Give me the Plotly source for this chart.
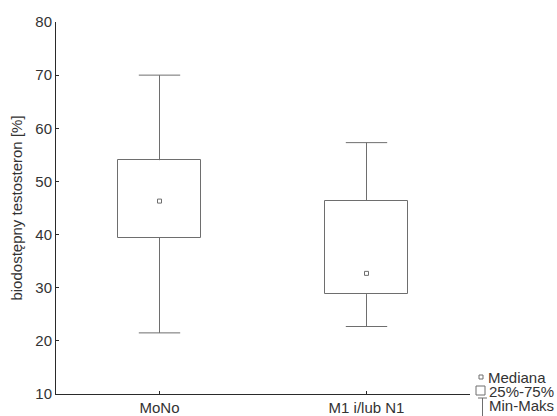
import plotly.graph_objects as go

categories = ["MoNo", "M1 i/lub N1"]
minimum = [21.5, 22.7]
q1 = [39.4, 28.8]
median = [46.3, 32.7]
q3 = [54.0, 46.4]
maximum = [70.0, 57.3]
y_ticks = [10, 20, 30, 40, 50, 60, 70, 80]

W, H = 557, 416
ML, MR, MT, MB = 56, 87, 22, 22
PW, PH = W - ML - MR, H - MT - MB
LINE = "#6e6e6e"
AXIS = "#2a2a2a"
TXT = "#333333"
FONT = "Liberation Sans, Arial, sans-serif"
FS = 15
LFS = 15

pos = list(range(len(categories)))
box_w = 0.4
cap_w = 0.2

fig = go.Figure()

# Boxes (25%-75%)
fig.add_trace(go.Bar(
    x=pos, y=[b - a for a, b in zip(q1, q3)], base=q1, width=box_w,
    marker=dict(color="white", line=dict(color=LINE, width=1)),
    hoverinfo="skip", showlegend=False))

# Whiskers and caps (Min-Maks)
wx, wy = [], []
for p, lo, a, b, hi in zip(pos, minimum, q1, q3, maximum):
    wx += [p, p, None, p, p, None,
           p - cap_w / 2, p + cap_w / 2, None, p - cap_w / 2, p + cap_w / 2, None]
    wy += [b, hi, None, a, lo, None, hi, hi, None, lo, lo, None]
fig.add_trace(go.Scatter(x=wx, y=wy, mode="lines",
                         line=dict(color=LINE, width=1),
                         hoverinfo="skip", showlegend=False))

# Medians
fig.add_trace(go.Scatter(x=pos, y=median, mode="markers",
                         marker=dict(symbol="square-open", size=4,
                                     color=LINE, line=dict(width=1, color=LINE)),
                         showlegend=False))


def px(x):
    return (x - ML) / PW


def py(y):
    return (H - MB - y) / PH


shapes = [
    dict(type="rect", xref="paper", yref="paper", x0=px(479), x1=px(483),
         y0=py(379), y1=py(375), line=dict(color=LINE, width=1)),
    dict(type="rect", xref="paper", yref="paper", x0=px(476), x1=px(485),
         y0=py(395), y1=py(386), line=dict(color=LINE, width=1)),
    dict(type="line", xref="paper", yref="paper", x0=px(478), x1=px(487),
         y0=py(398), y1=py(398), line=dict(color=LINE, width=1)),
    dict(type="line", xref="paper", yref="paper", x0=px(482.5), x1=px(482.5),
         y0=py(398), y1=py(416), line=dict(color=LINE, width=1)),
]
legend_text = [("Mediana", 487, 377), ("25%-75%", 488, 391), ("Min-Maks", 488, 405)]
annotations = [
    dict(text=t, xref="paper", yref="paper", x=px(xx), y=py(yy),
         xanchor="left", yanchor="middle", showarrow=False,
         borderpad=0, font=dict(family=FONT, size=LFS, color=TXT))
    for t, xx, yy in legend_text
]

fig.update_layout(
    width=W, height=H,
    margin=dict(l=ML, r=MR, t=MT, b=MB, pad=0),
    paper_bgcolor="white", plot_bgcolor="white",
    font=dict(family=FONT, size=FS, color=TXT),
    shapes=shapes, annotations=annotations,
    xaxis=dict(range=[-0.5, 1.5], tickvals=pos, ticktext=categories,
               showline=True, linecolor=AXIS, linewidth=1,
               ticks="inside", ticklen=3, tickcolor=AXIS,
               showgrid=False, zeroline=False, fixedrange=True,
               automargin=False),
    yaxis=dict(range=[10, 80], tickvals=y_ticks,
               showline=True, linecolor=AXIS, linewidth=1,
               ticks="inside", ticklen=3, tickcolor=AXIS,
               showgrid=False, zeroline=False, automargin=False,
               title=dict(text="biodostępny testosteron [%]", standoff=9,
                          font=dict(family=FONT, size=FS, color=TXT))),
    bargap=0,
)

fig.write_html("out.html",
               config={"displayModeBar": False},
               post_script="document.body.style.margin='0';document.body.style.overflow='hidden';")
